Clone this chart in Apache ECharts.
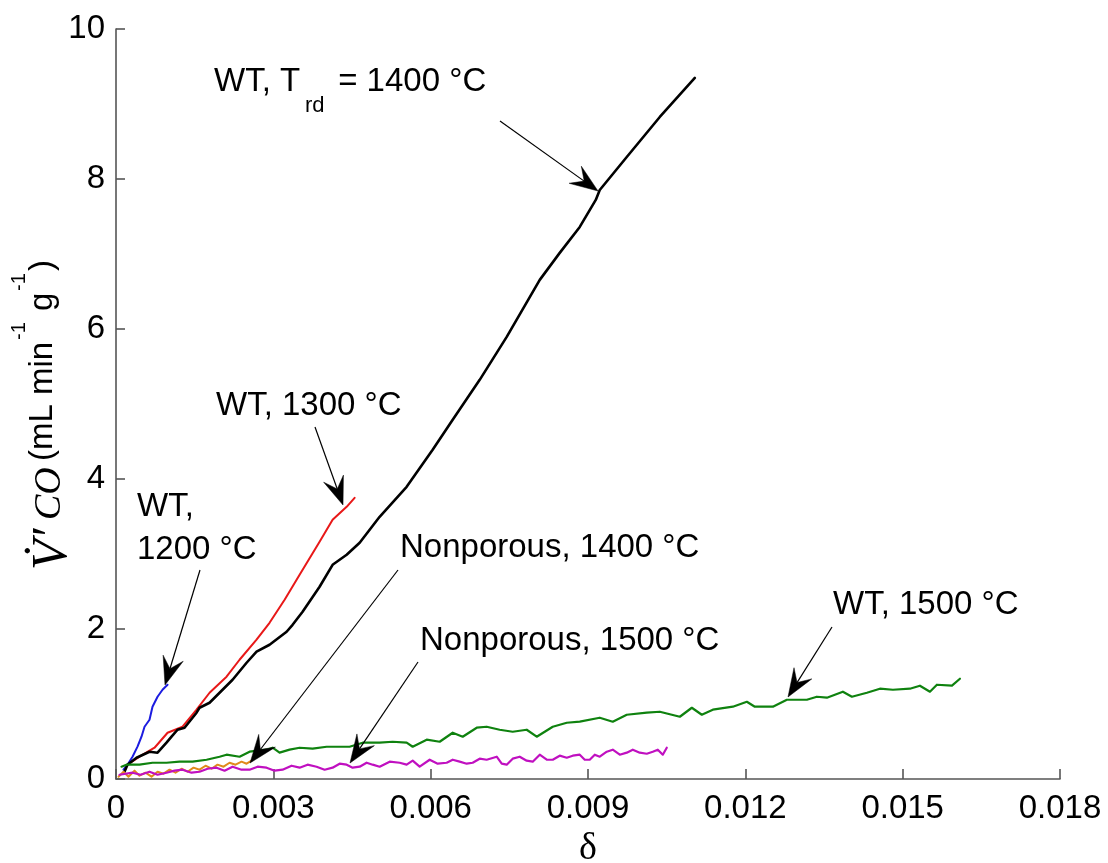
<!DOCTYPE html>
<html>
<head>
<meta charset="utf-8">
<title>CO production rate vs nonstoichiometry</title>
<script src="https://cdn.jsdelivr.net/npm/echarts@6/dist/echarts.min.js"></script>
<style>
  html, body { margin: 0; padding: 0; background: #ffffff; }
  #chart { width: 1108px; height: 863px; }
</style>
</head>
<body>
<div id="chart"></div>
<script>
// ---- axis ticks ----
const xTickValues = [0, 0.003, 0.006, 0.009, 0.012, 0.015, 0.018];
const xTickLabels = ['0', '0.003', '0.006', '0.009', '0.012', '0.015', '0.018'];
const yTickValues = [0, 2, 4, 6, 8, 10];
const yTickLabels = ['0', '2', '4', '6', '8', '10'];

// ---- series: [delta, V'CO (mL min^-1 g^-1)] ----
const wt1200 = [
  [0.000143, 0.124], [0.000219, 0.191], [0.000315, 0.297], [0.000410, 0.431],
  [0.000486, 0.564], [0.000544, 0.697], [0.000639, 0.790], [0.000696, 0.964],
  [0.000792, 1.097], [0.000887, 1.190], [0.000983, 1.257]
];

const wt1300 = [
  [0.000219, 0.191], [0.000448, 0.297], [0.000735, 0.417], [0.000983, 0.617],
  [0.001269, 0.697], [0.001536, 0.924], [0.001784, 1.150], [0.002108, 1.364],
  [0.002356, 1.590], [0.002680, 1.857], [0.002928, 2.083], [0.003215, 2.390],
  [0.003501, 2.723], [0.003882, 3.163], [0.004130, 3.456], [0.004398, 3.629],
  [0.004550, 3.749]
];

const wt1400 = [
  [0.000162, 0.097], [0.000219, 0.191], [0.000391, 0.284], [0.000639, 0.364],
  [0.000792, 0.351], [0.000963, 0.484], [0.001059, 0.564], [0.001173, 0.657],
  [0.001307, 0.684], [0.001536, 0.884], [0.001593, 0.950], [0.001784, 1.017],
  [0.001975, 1.150], [0.002223, 1.323], [0.002490, 1.550], [0.002680, 1.697],
  [0.002928, 1.790], [0.003253, 1.963], [0.003367, 2.056], [0.003558, 2.230],
  [0.003882, 2.563], [0.004130, 2.856], [0.004398, 2.990], [0.004646, 3.150],
  [0.005027, 3.496], [0.005542, 3.896], [0.006038, 4.389], [0.006420, 4.789],
  [0.006935, 5.322], [0.007450, 5.895], [0.008080, 6.655], [0.008461, 7.015],
  [0.008843, 7.361], [0.009148, 7.721], [0.009224, 7.854], [0.009739, 8.294],
  [0.010369, 8.827], [0.011037, 9.347]
];

const wt1500 = [
  [0.000105, 0.164], [0.000200, 0.191], [0.000448, 0.191], [0.000696, 0.217],
  [0.000963, 0.217], [0.001211, 0.231], [0.001459, 0.231], [0.001727, 0.257],
  [0.001975, 0.297], [0.002108, 0.324], [0.002356, 0.297], [0.002547, 0.364],
  [0.002871, 0.391], [0.002986, 0.417], [0.003119, 0.351], [0.003310, 0.391],
  [0.003501, 0.417], [0.003749, 0.404], [0.004016, 0.430], [0.004264, 0.430],
  [0.004455, 0.430], [0.004703, 0.484], [0.005027, 0.484], [0.005275, 0.497],
  [0.005542, 0.484], [0.005657, 0.430], [0.005924, 0.524], [0.006172, 0.497],
  [0.006420, 0.617], [0.006611, 0.564], [0.006878, 0.684], [0.007068, 0.697],
  [0.007316, 0.657], [0.007564, 0.630], [0.007831, 0.657], [0.008022, 0.564],
  [0.008328, 0.697], [0.008595, 0.750], [0.008843, 0.764], [0.009224, 0.817],
  [0.009472, 0.764], [0.009739, 0.857], [0.010121, 0.884], [0.010369, 0.897],
  [0.010751, 0.830], [0.010980, 0.950], [0.011170, 0.857], [0.011380, 0.924],
  [0.011762, 0.964], [0.012029, 1.030], [0.012181, 0.964], [0.012525, 0.964],
  [0.012792, 1.057], [0.013173, 1.057], [0.013364, 1.097], [0.013555, 1.084],
  [0.013860, 1.164], [0.014032, 1.097], [0.014318, 1.150], [0.014566, 1.204],
  [0.014814, 1.190], [0.015138, 1.204], [0.015329, 1.244], [0.015520, 1.164],
  [0.015653, 1.257], [0.015940, 1.244], [0.016092, 1.337]
];

const nonporous1400 = [
  [0.000048, 0.031], [0.000143, 0.097], [0.000238, 0.031], [0.000353, 0.111],
  [0.000448, 0.044], [0.000563, 0.084], [0.000677, 0.031], [0.000792, 0.097],
  [0.000906, 0.071], [0.001021, 0.124], [0.001135, 0.084], [0.001250, 0.137],
  [0.001364, 0.097], [0.001479, 0.151], [0.001593, 0.124], [0.001707, 0.177],
  [0.001822, 0.137], [0.001936, 0.191], [0.002051, 0.164], [0.002165, 0.217],
  [0.002280, 0.191], [0.002394, 0.231], [0.002490, 0.204], [0.002585, 0.244]
];

const nonporous1500 = [
  [0.000067, 0.057], [0.000315, 0.084], [0.000467, 0.057], [0.000639, 0.097],
  [0.000792, 0.057], [0.000963, 0.084], [0.001116, 0.111], [0.001269, 0.124],
  [0.001440, 0.084], [0.001593, 0.097], [0.001746, 0.137], [0.001917, 0.151],
  [0.002070, 0.111], [0.002223, 0.164], [0.002394, 0.124], [0.002547, 0.124],
  [0.002700, 0.164], [0.002871, 0.151], [0.003024, 0.111], [0.003176, 0.124],
  [0.003348, 0.177], [0.003501, 0.151], [0.003653, 0.191], [0.003825, 0.164],
  [0.003978, 0.124], [0.004130, 0.151], [0.004264, 0.204], [0.004398, 0.191],
  [0.004512, 0.151], [0.004646, 0.164], [0.004779, 0.217], [0.004894, 0.191],
  [0.005027, 0.164], [0.005218, 0.231], [0.005409, 0.217], [0.005542, 0.191],
  [0.005657, 0.244], [0.005790, 0.164], [0.005981, 0.257], [0.006134, 0.204],
  [0.006305, 0.217], [0.006420, 0.257], [0.006553, 0.231], [0.006687, 0.204],
  [0.006801, 0.217], [0.006935, 0.271], [0.007068, 0.257], [0.007259, 0.297],
  [0.007355, 0.204], [0.007450, 0.191], [0.007564, 0.271], [0.007698, 0.297],
  [0.007831, 0.244], [0.007946, 0.231], [0.008080, 0.324], [0.008213, 0.257],
  [0.008328, 0.257], [0.008461, 0.311], [0.008595, 0.284], [0.008709, 0.311],
  [0.008843, 0.324], [0.008938, 0.257], [0.009033, 0.257], [0.009129, 0.324],
  [0.009224, 0.297], [0.009358, 0.364], [0.009472, 0.391], [0.009606, 0.324],
  [0.009739, 0.351], [0.009854, 0.391], [0.009987, 0.351], [0.010121, 0.337],
  [0.010235, 0.364], [0.010331, 0.391], [0.010426, 0.324], [0.010502, 0.417]
];

// ---- fonts ----
const SANS = '"Liberation Sans", Arial, Helvetica, sans-serif';
const SERIF = '"Liberation Serif", "Times New Roman", Times, serif';

const chart = echarts.init(document.getElementById('chart'), null, { renderer: 'canvas' });

function tickLabel(values, labels) {
  return function (v) {
    for (let i = 0; i < values.length; i++) {
      if (Math.abs(values[i] - v) < 1e-9) return labels[i];
    }
    return '';
  };
}

function lineSeries(name, data, color, width, z) {
  return {
    name: name,
    type: 'line',
    data: data,
    showSymbol: false,
    symbol: 'none',
    smooth: false,
    z: z,
    lineStyle: { color: color, width: width, join: 'round', cap: 'round' },
    emphasis: { disabled: true }
  };
}

// ---- annotation helpers (pixel space) ----
function label(x, y, text, size, extra) {
  const style = Object.assign({
    text: text,
    fill: '#000',
    fontSize: size,
    fontFamily: SANS,
    align: 'left', textAlign: 'left',
    verticalAlign: 'middle', textVerticalAlign: 'middle'
  }, extra || {});
  return { type: 'text', x: x, y: y, silent: true, style: style };
}

function arrow(x1, y1, x2, y2) {
  const dx = x2 - x1, dy = y2 - y1;
  const len = Math.sqrt(dx * dx + dy * dy);
  const ux = dx / len, uy = dy / len;
  const px = -uy, py = ux;
  const L = 28, W = 10.5, N = 17;
  const pts = [
    [x2, y2],
    [x2 - L * ux + W * px, y2 - L * uy + W * py],
    [x2 - N * ux, y2 - N * uy],
    [x2 - L * ux - W * px, y2 - L * uy - W * py]
  ];
  return [
    { type: 'line', silent: true, z: 100,
      shape: { x1: x1, y1: y1, x2: x2 - N * ux, y2: y2 - N * uy },
      style: { stroke: '#000', lineWidth: 1.2 } },
    { type: 'polygon', silent: true, z: 101,
      shape: { points: pts },
      style: { fill: '#000', stroke: '#000', lineWidth: 0.5 } }
  ];
}

// y-axis title, laid out along a rotated baseline
const yTitle = {
  type: 'group',
  x: 0,
  y: 575,
  rotation: Math.PI / 2,
  silent: true,
  children: [
    label(5, 53, 'V\u0307\u2032', 50, { fontFamily: SERIF, fontStyle: 'italic' }),
    label(55, 50, 'CO', 38, { fontFamily: SERIF, fontStyle: 'italic' }),
    label(114, 43, '(mL min', 33),
    label(235, 19, '-1', 20),
    label(264, 43, 'g', 33),
    label(284, 19, '-1', 20),
    label(304, 43, ')', 33)
  ]
};

const annotations = [].concat(
  [label(214, 82, 'WT, T', 33), label(305, 106, 'rd', 22), label(329, 82, ' = 1400 \u00b0C', 33)],
  arrow(500, 121, 598, 191),
  [label(216, 406, 'WT, 1300 \u00b0C', 33)],
  arrow(315, 427, 343, 505),
  [label(137, 507, 'WT,', 33), label(137, 550, '1200 \u00b0C', 33)],
  arrow(200, 570, 165, 685),
  [label(400, 548, 'Nonporous, 1400 \u00b0C', 33)],
  arrow(398, 570, 250, 763),
  [label(420, 641, 'Nonporous, 1500 \u00b0C', 33)],
  arrow(418, 662, 350, 763),
  [label(833, 605, 'WT, 1500 \u00b0C', 33)],
  arrow(832, 627, 788, 697),
  [yTitle]
);

const axisColor = '#555555';

chart.setOption({
  animation: false,
  backgroundColor: '#ffffff',
  grid: {
    left: 116, right: 48, top: 29, bottom: 84,
    containLabel: false,
    outerBoundsMode: 'none'
  },
  xAxis: {
    type: 'value',
    min: 0, max: 0.018, interval: 0.003,
    name: '\u03b4',
    nameLocation: 'middle',
    nameGap: 50,
    nameTextStyle: { fontFamily: SERIF, fontSize: 38, color: '#000' },
    axisLine: { show: true, onZero: false, lineStyle: { color: axisColor, width: 1.6 } },
    axisTick: { show: true, inside: true, length: 10, lineStyle: { color: axisColor, width: 1.6 } },
    axisLabel: {
      show: true, margin: 13, fontSize: 33, fontFamily: SANS, color: '#000',
      showMinLabel: true, showMaxLabel: true,
      formatter: tickLabel(xTickValues, xTickLabels)
    },
    splitLine: { show: false }
  },
  yAxis: {
    type: 'value',
    min: 0, max: 10, interval: 2,
    axisLine: { show: true, onZero: false, lineStyle: { color: axisColor, width: 1.6 } },
    axisTick: { show: true, inside: true, length: 9, lineStyle: { color: axisColor, width: 1.6 } },
    axisLabel: {
      show: true, margin: 11, fontSize: 33, fontFamily: SANS, color: '#000',
      showMinLabel: true, showMaxLabel: true,
      formatter: tickLabel(yTickValues, yTickLabels)
    },
    splitLine: { show: false }
  },
  series: [
    lineSeries('WT, 1200 \u00b0C', wt1200, '#1c1ce0', 2, 3),
    lineSeries('WT, 1300 \u00b0C', wt1300, '#e81818', 2, 2),
    lineSeries('WT, 1400 \u00b0C', wt1400, '#000000', 2.6, 4),
    lineSeries('WT, 1500 \u00b0C', wt1500, '#0f820f', 2.2, 5),
    lineSeries('Nonporous, 1400 \u00b0C', nonporous1400, '#e08a1c', 2, 6),
    lineSeries('Nonporous, 1500 \u00b0C', nonporous1500, '#c010c0', 2.2, 7)
  ],
  graphic: annotations
});
</script>
</body>
</html>
